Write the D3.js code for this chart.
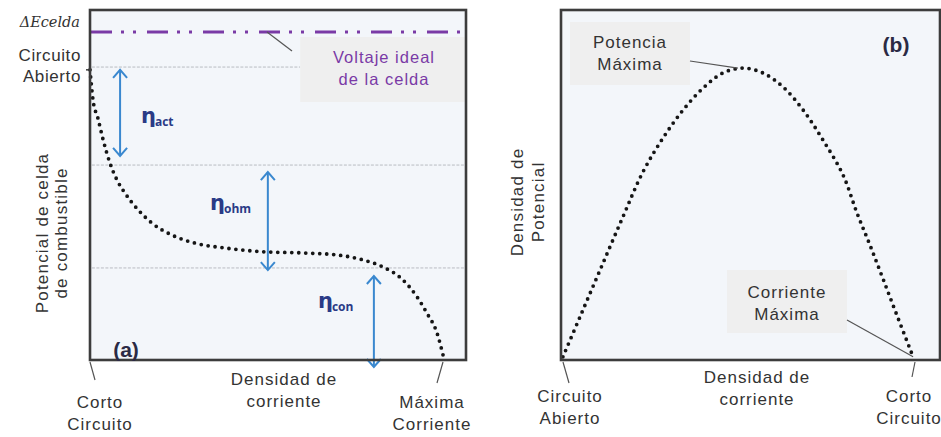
<!DOCTYPE html>
<html>
<head>
<meta charset="utf-8">
<script src="https://cdn.jsdelivr.net/npm/d3@7"></script>
<style>
  html, body { margin: 0; padding: 0; background: #ffffff; }
  svg { display: block; }
</style>
</head>
<body>
<svg id="chart" width="941" height="437"></svg>
<script>
// Polarization curve (a): current density vs cell potential (normalized units)
const densidadA  = [0, 0.003, 0.008, 0.021, 0.035, 0.053, 0.072, 0.093, 0.128, 0.165, 0.218, 0.279, 0.359, 0.465, 0.566, 0.657, 0.726, 0.779, 0.832, 0.870, 0.896, 0.923, 0.939];
const potencialA = [0.829, 0.794, 0.743, 0.691, 0.629, 0.563, 0.514, 0.477, 0.429, 0.391, 0.357, 0.334, 0.320, 0.309, 0.306, 0.300, 0.286, 0.266, 0.229, 0.180, 0.134, 0.077, 0.014];

// Ideal cell voltage and the limits of each loss region (a)
const voltajeIdeal = 0.937;
const nivelesGuia  = [0.837, 0.557, 0.263];

// Loss regions: label, arrow position and extent (a)
const perdidas    = ["act", "ohm", "con"];
const perdidaX    = [0.080, 0.473, 0.755];
const perdidaSup  = [0.829, 0.537, 0.240];
const perdidaInf  = [0.583, 0.257, -0.020];

// Power density curve (b)
const densidadB = [0.005, 0.050, 0.103, 0.161, 0.216, 0.269, 0.322, 0.375, 0.427, 0.480, 0.533, 0.586, 0.639, 0.691, 0.744, 0.781, 0.815, 0.850, 0.887, 0.929];
const potenciaB = [0.009, 0.123, 0.257, 0.403, 0.537, 0.634, 0.714, 0.777, 0.820, 0.834, 0.820, 0.780, 0.714, 0.629, 0.529, 0.420, 0.329, 0.231, 0.126, 0.009];

const svg = d3.select("#chart");

const sans       = "'Liberation Sans', Arial, sans-serif";
const frameColor = "#3c3c3c";
const plotFill   = "#f3f6fa";
const textColor  = "#333333";
const purple     = "#7a3aa6";
const blue       = "#3a88cf";
const navy       = "#2a3a86";

function label(g, x, y, lines, opts = {}) {
  const t = g.append("text")
    .attr("x", x).attr("y", y)
    .attr("text-anchor", opts.anchor || "middle")
    .style("font-family", sans)
    .style("font-size", (opts.size || 17) + "px")
    .style("letter-spacing", (opts.ls != null ? opts.ls : 1.0) + "px")
    .attr("fill", opts.fill || textColor);
  lines.forEach((s, i) => {
    t.append("tspan").attr("x", x).attr("dy", i === 0 ? 0 : (opts.lh || 21.5)).text(s);
  });
  return t;
}

// ---------------- Panel (a) ----------------
const xA = d3.scaleLinear().domain([0, 1]).range([90, 466]);
const yA = d3.scaleLinear().domain([0, 1]).range([360, 10]);
const gA = svg.append("g");

gA.append("rect")
  .attr("x", xA(0)).attr("y", yA(1))
  .attr("width", xA(1) - xA(0)).attr("height", yA(0) - yA(1))
  .attr("fill", plotFill);

// Grey guide lines at the boundaries of each loss region
gA.selectAll("line.guia").data(nivelesGuia).join("line")
  .attr("class", "guia")
  .attr("x1", xA(0.005))
  .attr("x2", (d, i) => i === 0 ? xA(0.559) : xA(1))
  .attr("y1", d => yA(d)).attr("y2", d => yA(d))
  .attr("stroke", "#b9bcc2").attr("stroke-width", 1)
  .attr("stroke-dasharray", "3 1.5");

// Ideal voltage label box
gA.append("rect")
  .attr("x", xA(0.559)).attr("y", 37)
  .attr("width", xA(1) - xA(0.559)).attr("height", 65)
  .attr("fill", "#efefef");
label(gA, 384, 63, ["Voltaje ideal", "de la celda"], { fill: purple, lh: 22, size: 16.5 });

// Ideal voltage (dash-dot-dot)
gA.append("line")
  .attr("x1", 86).attr("x2", xA(1))
  .attr("y1", yA(voltajeIdeal)).attr("y2", yA(voltajeIdeal))
  .attr("stroke", purple).attr("stroke-width", 3)
  .attr("stroke-dasharray", "21 9 3 9 3 11")
  .attr("stroke-dashoffset", 51);
gA.append("line")
  .attr("x1", 267).attr("y1", yA(voltajeIdeal))
  .attr("x2", 292).attr("y2", 51)
  .attr("stroke", "#555").attr("stroke-width", 1.2);

// Loss arrows
const chevron = 7;
perdidas.forEach((p, i) => {
  const x = xA(perdidaX[i]), y0 = yA(perdidaSup[i]), y1 = yA(perdidaInf[i]);
  gA.append("line").attr("x1", x).attr("x2", x).attr("y1", y0).attr("y2", y1)
    .attr("stroke", blue).attr("stroke-width", 2);
  gA.append("path")
    .attr("d", `M${x - chevron},${y0 + chevron + 1} L${x},${y0} L${x + chevron},${y0 + chevron + 1}`)
    .attr("fill", "none").attr("stroke", blue).attr("stroke-width", 2);
  gA.append("path")
    .attr("d", `M${x - chevron},${y1 - chevron - 1} L${x},${y1} L${x + chevron},${y1 - chevron - 1}`)
    .attr("fill", "none").attr("stroke", blue).attr("stroke-width", 2);
});

// Loss labels (eta with subscript)
const etaPos = [[141, 123], [210, 210], [318, 308]];
perdidas.forEach((p, i) => {
  const t = gA.append("text")
    .attr("x", etaPos[i][0]).attr("y", etaPos[i][1])
    .attr("fill", navy)
    .style("font-weight", "bold")
    .style("font-family", "'DejaVu Sans', sans-serif");
  t.append("tspan").style("font-size", "21px").text("η");
  t.append("tspan").style("font-size", "12px").style("font-family", "'Open Sans', sans-serif")
    .attr("dy", 3).attr("dx", -1).text(p);
});

// Polarization curve
const lineA = d3.line()
  .x((d, i) => xA(densidadA[i]))
  .y((d, i) => yA(potencialA[i]))
  .curve(d3.curveMonotoneX);
gA.append("path")
  .attr("d", lineA(densidadA))
  .attr("fill", "none").attr("stroke", "#151515")
  .attr("stroke-width", 3.8).attr("stroke-linecap", "round")
  .attr("stroke-dasharray", "0 7");

// Frame
gA.append("rect")
  .attr("x", xA(0)).attr("y", yA(1))
  .attr("width", xA(1) - xA(0)).attr("height", yA(0) - yA(1))
  .attr("fill", "none").attr("stroke", frameColor).attr("stroke-width", 2.6);

// Small tick at the open-circuit potential
gA.append("line").attr("x1", 86).attr("x2", 90)
  .attr("y1", yA(potencialA[0])).attr("y2", yA(potencialA[0]))
  .attr("stroke", frameColor).attr("stroke-width", 1.5);

// Axis texts (a)
gA.append("text")
  .attr("x", 80).attr("y", 27).attr("text-anchor", "end")
  .style("font-family", "'DejaVu Serif', 'Liberation Serif', serif")
  .style("font-style", "italic").style("font-size", "14.5px")
  .attr("fill", "#333")
  .text("ΔEcelda");
label(gA, 81, 61, ["Circuito"], { anchor: "end", ls: 0.6 });
label(gA, 81, 82, ["Abierto"], { anchor: "end", ls: 0.6 });

gA.append("g").attr("transform", "translate(48,233) rotate(-90)")
  .call(g => label(g, 0, 0, ["Potencial de celda"], { ls: 1.2 }))
  .call(g => label(g, 0, 19, ["de combustible"], { ls: 1.2 }));

label(gA, 284, 385, ["Densidad de", "corriente"]);
label(gA, 100, 408, ["Corto", "Circuito"]);
label(gA, 432, 408, ["Máxima", "Corriente"]);
gA.append("line").attr("x1", 90).attr("y1", 362).attr("x2", 95).attr("y2", 380)
  .attr("stroke", "#555").attr("stroke-width", 1.2);
gA.append("line").attr("x1", 443).attr("y1", 362).attr("x2", 437).attr("y2", 383)
  .attr("stroke", "#555").attr("stroke-width", 1.2);

gA.append("text").attr("x", 126).attr("y", 357).attr("text-anchor", "middle")
  .style("font-family", sans).style("font-size", "21px").style("font-weight", "bold")
  .attr("fill", "#2b2a44")
  .text("(a)");

// ---------------- Panel (b) ----------------
const xB = d3.scaleLinear().domain([0, 1]).range([561, 940]);
const yB = d3.scaleLinear().domain([0, 1]).range([360, 10]);
const gB = svg.append("g");

gB.append("rect")
  .attr("x", xB(0)).attr("y", yB(1))
  .attr("width", xB(1) - xB(0)).attr("height", yB(0) - yB(1))
  .attr("fill", plotFill);

// Annotation boxes
gB.append("rect").attr("x", 570).attr("y", 22).attr("width", 120).attr("height", 63).attr("fill", "#efefef");
label(gB, 630, 48, ["Potencia", "Máxima"]);
gB.append("rect").attr("x", 727).attr("y", 270).attr("width", 120).attr("height", 63).attr("fill", "#efefef");
label(gB, 787, 298, ["Corriente", "Máxima"]);

// Power density curve
const lineB = d3.line()
  .x((d, i) => xB(densidadB[i]))
  .y((d, i) => yB(potenciaB[i]))
  .curve(d3.curveCatmullRom.alpha(0.5));
gB.append("path")
  .attr("d", lineB(densidadB))
  .attr("fill", "none").attr("stroke", "#151515")
  .attr("stroke-width", 3.8).attr("stroke-linecap", "round")
  .attr("stroke-dasharray", "0 7");

// Leader lines to the maximum power and maximum current points
const iMax = potenciaB.indexOf(d3.max(potenciaB));
gB.append("line").attr("x1", 690).attr("y1", 61)
  .attr("x2", xB(densidadB[iMax]) - 5).attr("y2", yB(potenciaB[iMax]))
  .attr("stroke", "#555").attr("stroke-width", 1.2);
const iEnd = densidadB.length - 1;
gB.append("line").attr("x1", 847).attr("y1", 320)
  .attr("x2", xB(densidadB[iEnd])).attr("y2", yB(potenciaB[iEnd]))
  .attr("stroke", "#555").attr("stroke-width", 1.2);

// Frame
gB.append("rect")
  .attr("x", xB(0)).attr("y", yB(1))
  .attr("width", xB(1) - xB(0)).attr("height", yB(0) - yB(1))
  .attr("fill", "none").attr("stroke", frameColor).attr("stroke-width", 2.6);

gB.append("text").attr("x", 896).attr("y", 52).attr("text-anchor", "middle")
  .style("font-family", sans).style("font-size", "21px").style("font-weight", "bold")
  .attr("fill", "#2b2a44")
  .text("(b)");

gB.append("g").attr("transform", "translate(523,202) rotate(-90)")
  .call(g => label(g, 0, 0, ["Densidad de"], { ls: 1.2 }))
  .call(g => label(g, 0, 21, ["Potencial"], { ls: 1.2 }));

label(gB, 757, 383, ["Densidad de", "corriente"]);
label(gB, 570, 402, ["Circuito", "Abierto"]);
label(gB, 909, 402, ["Corto", "Circuito"]);
gB.append("line").attr("x1", 563).attr("y1", 362).attr("x2", 569).attr("y2", 383)
  .attr("stroke", "#555").attr("stroke-width", 1.2);
gB.append("line").attr("x1", 915).attr("y1", 362).attr("x2", 912).attr("y2", 377)
  .attr("stroke", "#555").attr("stroke-width", 1.2);
</script>
</body>
</html>
